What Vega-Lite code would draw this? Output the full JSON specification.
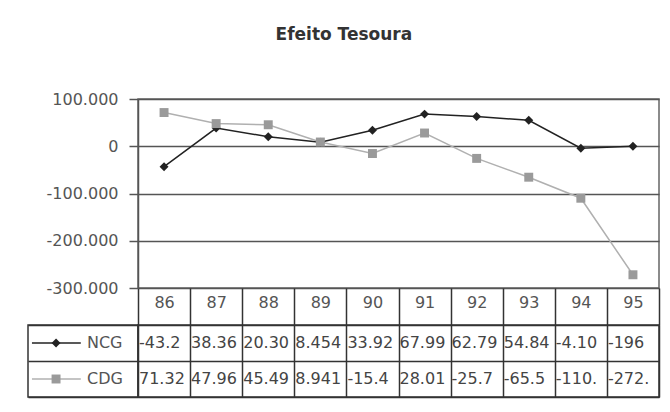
{
  "$schema": "https://vega.github.io/schema/vega-lite/v6.json",
  "padding": {"left": 27, "top": 25, "right": 5, "bottom": 5},
  "background": "white",
  "columns": 2,
  "bounds": "flush",
  "align": "each",
  "spacing": {"row": 37, "column": 0},
  "config": {
    "locale": {"number": {"decimal": ",", "thousands": ".", "grouping": [3], "currency": ["R$", ""], "minus": "-"}},
    "font": "DejaVu Sans",
    "axis": {"labelFont": "DejaVu Sans", "labelFontSize": 16, "labelColor": "#555"}
  },
  "datasets": {
    "d": [
      {"serie": "NCG", "ano": "86", "valor": -43200, "txt": "-43.2"},
      {"serie": "NCG", "ano": "87", "valor": 38360, "txt": "38.36"},
      {"serie": "NCG", "ano": "88", "valor": 20300, "txt": "20.30"},
      {"serie": "NCG", "ano": "89", "valor": 8454, "txt": "8.454"},
      {"serie": "NCG", "ano": "90", "valor": 33920, "txt": "33.92"},
      {"serie": "NCG", "ano": "91", "valor": 67990, "txt": "67.99"},
      {"serie": "NCG", "ano": "92", "valor": 62790, "txt": "62.79"},
      {"serie": "NCG", "ano": "93", "valor": 54840, "txt": "54.84"},
      {"serie": "NCG", "ano": "94", "valor": -4100, "txt": "-4.10"},
      {"serie": "NCG", "ano": "95", "valor": -196, "txt": "-196"},
      {"serie": "CDG", "ano": "86", "valor": 71320, "txt": "71.32"},
      {"serie": "CDG", "ano": "87", "valor": 47960, "txt": "47.96"},
      {"serie": "CDG", "ano": "88", "valor": 45490, "txt": "45.49"},
      {"serie": "CDG", "ano": "89", "valor": 8941, "txt": "8.941"},
      {"serie": "CDG", "ano": "90", "valor": -15400, "txt": "-15.4"},
      {"serie": "CDG", "ano": "91", "valor": 28010, "txt": "28.01"},
      {"serie": "CDG", "ano": "92", "valor": -25700, "txt": "-25.7"},
      {"serie": "CDG", "ano": "93", "valor": -65500, "txt": "-65.5"},
      {"serie": "CDG", "ano": "94", "valor": -110000, "txt": "-110."},
      {"serie": "CDG", "ano": "95", "valor": -272000, "txt": "-272."}
    ],
    "s": [{"serie": "NCG"}, {"serie": "CDG"}],
    "vazio": []
  },
  "concat": [
    {
      "width": 110,
      "height": 189,
      "view": {"stroke": null},
      "data": {"name": "vazio"},
      "mark": {"type": "point"}
    },
    {
      "title": {"text": "Efeito Tesoura", "font": "DejaVu Sans", "fontSize": 17, "fontWeight": "bold", "color": "#333", "anchor": "middle", "frame": "bounds", "offset": 47},
      "width": 521,
      "height": 189,
      "view": {"stroke": "#666", "strokeWidth": 1.5},
      "data": {"name": "d"},
      "encoding": {
        "x": {"field": "ano", "type": "ordinal", "scale": {"type": "band", "paddingInner": 0, "paddingOuter": 0},
          "axis": {"title": null, "orient": "bottom", "labelAngle": 0, "tickBand": "extent", "tickSize": 37, "tickColor": "#333", "tickWidth": 1.5, "labelPadding": -31, "domain": false, "grid": false, "maxExtent": 37, "minExtent": 37}},
        "y": {"field": "valor", "type": "quantitative", "scale": {"domain": [-300000, 100000], "nice": false, "zero": false},
          "axis": {"title": null, "values": [100000, 0, -100000, -200000, -300000], "format": ",d", "tickSize": 9, "labelPadding": 11, "tickColor": "#555", "tickWidth": 1.5, "domainColor": "#555", "domainWidth": 1.5, "grid": true, "gridColor": "#555", "gridWidth": 1.5, "gridOpacity": 1, "minExtent": 110, "maxExtent": 110}}
      },
      "layer": [
        {"mark": {"type": "line", "strokeWidth": 1.5},
         "encoding": {"stroke": {"field": "serie", "type": "nominal", "scale": {"domain": ["NCG", "CDG"], "range": ["#222", "#b0b0b0"]}, "legend": null}}},
        {"mark": {"type": "point", "filled": true, "opacity": 1, "size": 80},
         "encoding": {
           "fill": {"field": "serie", "type": "nominal", "scale": {"domain": ["NCG", "CDG"], "range": ["#222", "#9a9a9a"]}, "legend": null},
           "shape": {"field": "serie", "type": "nominal", "scale": {"domain": ["NCG", "CDG"], "range": ["diamond", "square"]}, "legend": null}}}
      ]
    },
    {
      "width": 110,
      "height": 72,
      "view": {"stroke": "#333", "strokeWidth": 1.5},
      "data": {"name": "s"},
      "encoding": {
        "y": {"field": "serie", "type": "nominal", "sort": ["NCG", "CDG"], "scale": {"type": "band", "paddingInner": 0, "paddingOuter": 0},
          "axis": {"title": null, "labels": false, "ticks": false, "domain": false, "grid": true, "tickBand": "extent", "gridColor": "#333", "gridWidth": 1.5, "gridOpacity": 1, "minExtent": 0, "maxExtent": 0}}
      },
      "layer": [
        {"mark": {"type": "rule", "strokeWidth": 1.5},
         "encoding": {
           "x": {"datum": 0.036, "type": "quantitative", "scale": {"domain": [0, 1]}, "axis": null},
           "x2": {"datum": 0.48},
           "stroke": {"field": "serie", "type": "nominal", "scale": {"domain": ["NCG", "CDG"], "range": ["#222", "#b0b0b0"]}, "legend": null}}},
        {"mark": {"type": "point", "filled": true, "opacity": 1, "size": 80},
         "encoding": {
           "x": {"datum": 0.255, "type": "quantitative"},
           "fill": {"field": "serie", "type": "nominal", "scale": {"domain": ["NCG", "CDG"], "range": ["#222", "#9a9a9a"]}, "legend": null},
           "shape": {"field": "serie", "type": "nominal", "scale": {"domain": ["NCG", "CDG"], "range": ["diamond", "square"]}, "legend": null}}},
        {"mark": {"type": "text", "align": "left", "fontSize": 16, "color": "#555", "font": "DejaVu Sans"},
         "encoding": {
           "x": {"datum": 0.536, "type": "quantitative"},
           "text": {"field": "serie"}}}
      ]
    },
    {
      "width": 521,
      "height": 72,
      "view": {"stroke": "#333", "strokeWidth": 1.5},
      "data": {"name": "d"},
      "mark": {"type": "text", "align": "left", "dx": 1, "fontSize": 16, "color": "#444", "font": "DejaVu Sans"},
      "encoding": {
        "x": {"field": "ano", "type": "ordinal", "bandPosition": 0, "scale": {"type": "band", "paddingInner": 0, "paddingOuter": 0},
          "axis": {"title": null, "labels": false, "ticks": false, "domain": false, "grid": true, "tickBand": "extent", "gridColor": "#333", "gridWidth": 1.5, "gridOpacity": 1, "minExtent": 0, "maxExtent": 0}},
        "y": {"field": "serie", "type": "nominal", "sort": ["NCG", "CDG"], "scale": {"type": "band", "paddingInner": 0, "paddingOuter": 0},
          "axis": {"title": null, "labels": false, "ticks": false, "domain": false, "grid": true, "tickBand": "extent", "gridColor": "#333", "gridWidth": 1.5, "gridOpacity": 1, "minExtent": 0, "maxExtent": 0}},
        "text": {"field": "txt"}
      }
    }
  ]
}
